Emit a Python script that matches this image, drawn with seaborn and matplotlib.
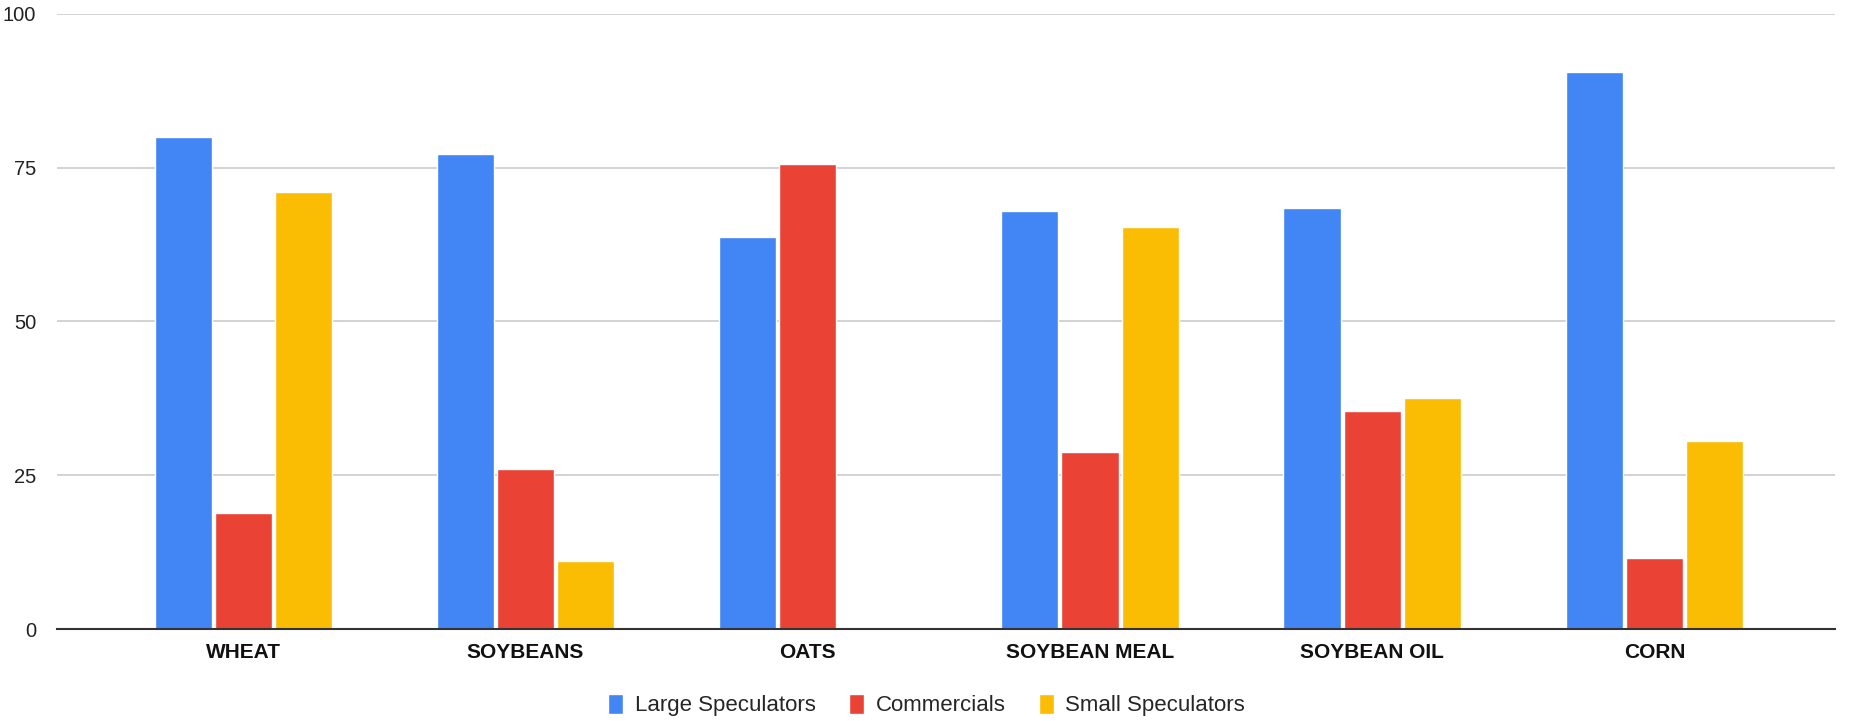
import numpy as np
import pandas as pd
import seaborn as sns
import matplotlib.pyplot as plt

# values
categories = ["WHEAT", "SOYBEANS", "OATS", "SOYBEAN MEAL", "SOYBEAN OIL", "CORN"]
large_speculators = [80.0, 77.3, 63.7, 67.9, 68.5, 90.6]
commercials = [18.9, 26.0, 75.6, 28.8, 35.4, 11.5]
small_speculators = [71.0, 11.0, 0.0, 65.4, 37.6, 30.6]

series_names = ["Large Speculators", "Commercials", "Small Speculators"]
colors = ["#4285F4", "#EA4335", "#FBBC04"]
y_ticks = [0, 25, 50, 75, 100]

df = pd.DataFrame({
    "category": categories * 3,
    "series": np.repeat(series_names, len(categories)),
    "value": large_speculators + commercials + small_speculators,
})

sns.set_style("white")
plt.rcParams["font.family"] = ["Liberation Sans", "DejaVu Sans"]

fig, ax = plt.subplots(figsize=(18.53, 7.21), dpi=100)
fig.subplots_adjust(left=0.0308, right=0.9903, top=0.9806, bottom=0.1276)

sns.barplot(
    data=df,
    x="category",
    y="value",
    hue="series",
    order=categories,
    hue_order=series_names,
    palette=colors,
    width=0.64,
    gap=0.05,
    saturation=1,
    ax=ax,
    legend=True,
)

ax.set_ylim(0, 100)
ax.set_xlim(-0.66, 5.64)
ax.set_yticks(y_ticks)
ax.set_yticklabels([str(t) for t in y_ticks], fontsize=14.5, color="#222222")
ax.set_xticks(range(len(categories)))
ax.set_xticklabels(categories, fontsize=15, fontweight="bold", color="#111111")
ax.tick_params(axis="y", length=0, pad=15)
ax.tick_params(axis="x", length=0, pad=10)
ax.set_xlabel("")
ax.set_ylabel("")

for t in y_ticks[1:]:
    ax.axhline(t, color="#CCCCCC", linewidth=1.2, zorder=0)
ax.set_axisbelow(True)

for side in ["left", "right", "top"]:
    ax.spines[side].set_visible(False)
ax.spines["bottom"].set_color("#333333")
ax.spines["bottom"].set_linewidth(1.5)

handles, labels = ax.get_legend_handles_labels()
ax.get_legend().remove()
fig.legend(
    handles,
    labels,
    loc="center",
    bbox_to_anchor=(0.5, 0.022),
    ncol=3,
    frameon=False,
    fontsize=16,
    handlelength=0.7,
    handleheight=1.0,
    handletextpad=0.5,
    columnspacing=1.5,
)

fig.savefig("out.png", dpi=100)
